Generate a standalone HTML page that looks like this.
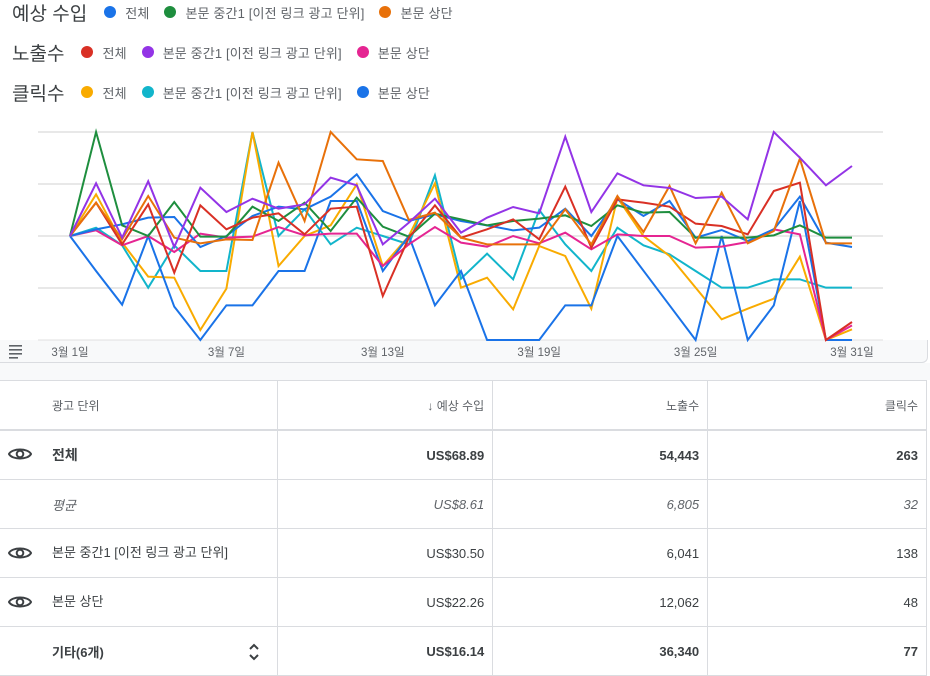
<!DOCTYPE html>
<html><head><meta charset="utf-8">
<style>
body{margin:0;width:930px;height:675px;overflow:hidden;background:#fff;font-family:"Liberation Sans","Noto Sans CJK KR",sans-serif;color:#3c4043;position:relative}
.lg{position:absolute;left:12px;height:24px;display:flex;align-items:center;white-space:nowrap}
.lg .t{font-size:19px;color:#3c4043;margin-right:17px}
.lg .e{display:flex;align-items:center;font-size:13px;color:#5f6368;margin-right:15px;letter-spacing:0.15px}
.lg .d{width:12px;height:12px;border-radius:50%;margin-right:9px}
#band{position:absolute;left:0;top:340px;width:927px;height:22px;background:#f8f9fa;border-bottom:1px solid #dadce0;border-right:1px solid #dadce0;border-radius:0 0 6px 0}
#gap{position:absolute;left:0;top:363px;width:930px;height:17px;background:#f8f9fa}
table{position:absolute;left:0;top:380px;width:927px;border-collapse:collapse;font-size:13px}
td{border:1px solid #dadce0;height:48px;padding:0 8px;color:#3c4043}
td.r{text-align:right;padding-right:8px}
tr.h td{color:#5f6368;font-size:12px;border-bottom:2px solid #dadce0}
tr.b td{font-weight:bold}
tr.i td{font-style:italic;color:#5f6368}
td:first-child{border-left:none}
.eye{display:inline-block;width:24px;vertical-align:middle;margin:0 20px 0 0}
</style></head><body>
<div class="lg" style="top:0px"><span class="t">예상 수입</span>
<span class="e"><span class="d" style="background:#1a73e8"></span>전체</span>
<span class="e"><span class="d" style="background:#1e8e3e"></span>본문 중간1 [이전 링크 광고 단위]</span>
<span class="e"><span class="d" style="background:#e8710a"></span>본문 상단</span></div>
<div class="lg" style="top:40px"><span class="t">노출수</span>
<span class="e"><span class="d" style="background:#d93025"></span>전체</span>
<span class="e"><span class="d" style="background:#9334e6"></span>본문 중간1 [이전 링크 광고 단위]</span>
<span class="e"><span class="d" style="background:#e52592"></span>본문 상단</span></div>
<div class="lg" style="top:80px"><span class="t">클릭수</span>
<span class="e"><span class="d" style="background:#f9ab00"></span>전체</span>
<span class="e"><span class="d" style="background:#12b5cb"></span>본문 중간1 [이전 링크 광고 단위]</span>
<span class="e"><span class="d" style="background:#1a73e8"></span>본문 상단</span></div>

<div id="band"></div>
<div id="gap"></div>
<svg id="chart" width="930" height="365" style="position:absolute;left:0;top:0"></svg>

<table>
<colgroup><col style="width:278px"><col style="width:215px"><col style="width:215px"><col style="width:219px"></colgroup>
<tr class="h"><td style="padding-left:52px">광고 단위</td><td class="r">↓ 예상 수입</td><td class="r">노출수</td><td class="r">클릭수</td></tr>
<tr class="b"><td style="font-size:14px"><span class="eye"><svg width="24" height="16" viewBox="0 0 24 16"><path d="M1 8C4 2 20 2 23 8C20 14 4 14 1 8Z" fill="none" stroke="#3c4043" stroke-width="2"/><circle cx="12" cy="8" r="3.3" fill="none" stroke="#3c4043" stroke-width="2"/></svg></span>전체</td><td class="r">US$68.89</td><td class="r">54,443</td><td class="r">263</td></tr>
<tr class="i"><td style="padding-left:52px">평균</td><td class="r">US$8.61</td><td class="r">6,805</td><td class="r">32</td></tr>
<tr><td><span class="eye"><svg width="24" height="16" viewBox="0 0 24 16"><path d="M1 8C4 2 20 2 23 8C20 14 4 14 1 8Z" fill="none" stroke="#3c4043" stroke-width="2"/><circle cx="12" cy="8" r="3.3" fill="none" stroke="#3c4043" stroke-width="2"/></svg></span>본문 중간1 [이전 링크 광고 단위]</td><td class="r">US$30.50</td><td class="r">6,041</td><td class="r">138</td></tr>
<tr><td><span class="eye"><svg width="24" height="16" viewBox="0 0 24 16"><path d="M1 8C4 2 20 2 23 8C20 14 4 14 1 8Z" fill="none" stroke="#3c4043" stroke-width="2"/><circle cx="12" cy="8" r="3.3" fill="none" stroke="#3c4043" stroke-width="2"/></svg></span>본문 상단</td><td class="r">US$22.26</td><td class="r">12,062</td><td class="r">48</td></tr>
<tr class="b"><td style="padding-left:52px;position:relative">기타(6개)<span style="position:absolute;left:248px;top:16px"><svg width="12" height="18" viewBox="0 0 12 18"><path d="M2 6L6 2L10 6M2 12L6 16L10 12" fill="none" stroke="#3c4043" stroke-width="2"/></svg></span></td><td class="r">US$16.14</td><td class="r">36,340</td><td class="r">77</td></tr>
</table>

<script>
const days=[1,2,3,4,5,6,7,8,9,10,11,12,13,14,15,16,17,18,19,20,21,22,23,24,25,26,27,28,29,30,31];
const tickLabels=["3월 1일","3월 7일","3월 13일","3월 19일","3월 25일","3월 31일"];
const tickDays=[1,7,13,19,25,31];
const revTotal=[312,332,347,367,369,279,312,372,400,392,430,497,387,357,377,357,344,329,337,394,312,422,372,417,307,330,297,332,430,292,279];
const revMid=[312,624,344,312,414,310,310,400,357,412,327,427,340,310,379,362,344,357,364,374,342,404,382,384,307,307,307,314,344,307,307];
const revTop=[312,412,302,432,307,290,302,300,532,357,624,542,537,360,382,307,287,287,287,392,287,432,324,462,290,442,290,327,544,290,290];
const imprTotal=[312,412,287,407,202,404,332,367,380,317,394,400,132,307,404,307,332,362,302,460,277,422,412,400,349,342,317,447,472,0,54];
const imprMid=[312,470,307,476,279,457,384,424,394,407,487,464,287,352,424,322,367,399,380,610,384,500,464,456,426,430,362,624,547,464,522];
const imprTop=[312,329,284,312,264,319,307,310,339,314,319,319,222,287,339,292,280,312,290,322,272,317,312,312,277,280,294,332,317,0,44];
const clkTotal=[312,437,292,190,187,30,154,624,222,312,344,467,222,312,470,157,187,92,282,252,94,427,312,252,157,62,94,124,250,0,32];
const clkMid=[312,337,284,157,284,207,207,624,312,392,287,337,312,287,494,184,259,182,390,287,207,337,284,257,207,157,157,182,182,157,157];
const clkTop=[312,207,106,312,100,0,104,104,207,207,417,417,207,312,104,207,0,0,0,104,104,312,208,104,0,312,0,104,417,0,0];
const yMax=624, gridVals=[0,156,312,468,624];

const NS="http://www.w3.org/2000/svg";
const svg=document.getElementById('chart');
const X=d=>70+(d-1)*(852-70)/30;
const Y=v=>340-v/yMax*208;
function mk(t,a){const e=document.createElementNS(NS,t);for(const k in a)e.setAttribute(k,a[k]);svg.appendChild(e);return e;}
gridVals.forEach(g=>{const l=mk('line',{x1:38,x2:883,y1:Y(g),y2:Y(g),stroke:'#e0e0e0','stroke-width':g===0?1:1.5});

});
tickDays.forEach((d,i)=>{const t=mk('text',{x:X(d),y:356,'text-anchor':'middle','font-size':11.5,fill:'#5f6368','font-family':'"Liberation Sans","Noto Sans CJK KR",sans-serif'});t.textContent=tickLabels[i];

});
[345,349,353,357].forEach((y,i)=>{const r=mk('rect',{x:9,y:y,width:i==3?9:13,height:1.6,fill:'#5f6368'});

});
const series=[[clkMid,'#12b5cb','series-clicks-mid'],[clkTotal,'#f9ab00','series-clicks-total'],[clkTop,'#1a73e8','series-clicks-top'],[imprTop,'#e52592','series-impressions-top'],[revTotal,'#1a73e8','series-revenue-total'],[revMid,'#1e8e3e','series-revenue-mid'],[imprTotal,'#d93025','series-impressions-total'],[revTop,'#e8710a','series-revenue-top'],[imprMid,'#9334e6','series-impressions-mid']];
series.forEach(s=>{const p=mk('polyline',{points:s[0].map((v,i)=>X(days[i])+','+Y(v)).join(' '),fill:'none',stroke:s[1],'stroke-width':2,'stroke-linejoin':'miter'});

});
</script>
</body></html>
